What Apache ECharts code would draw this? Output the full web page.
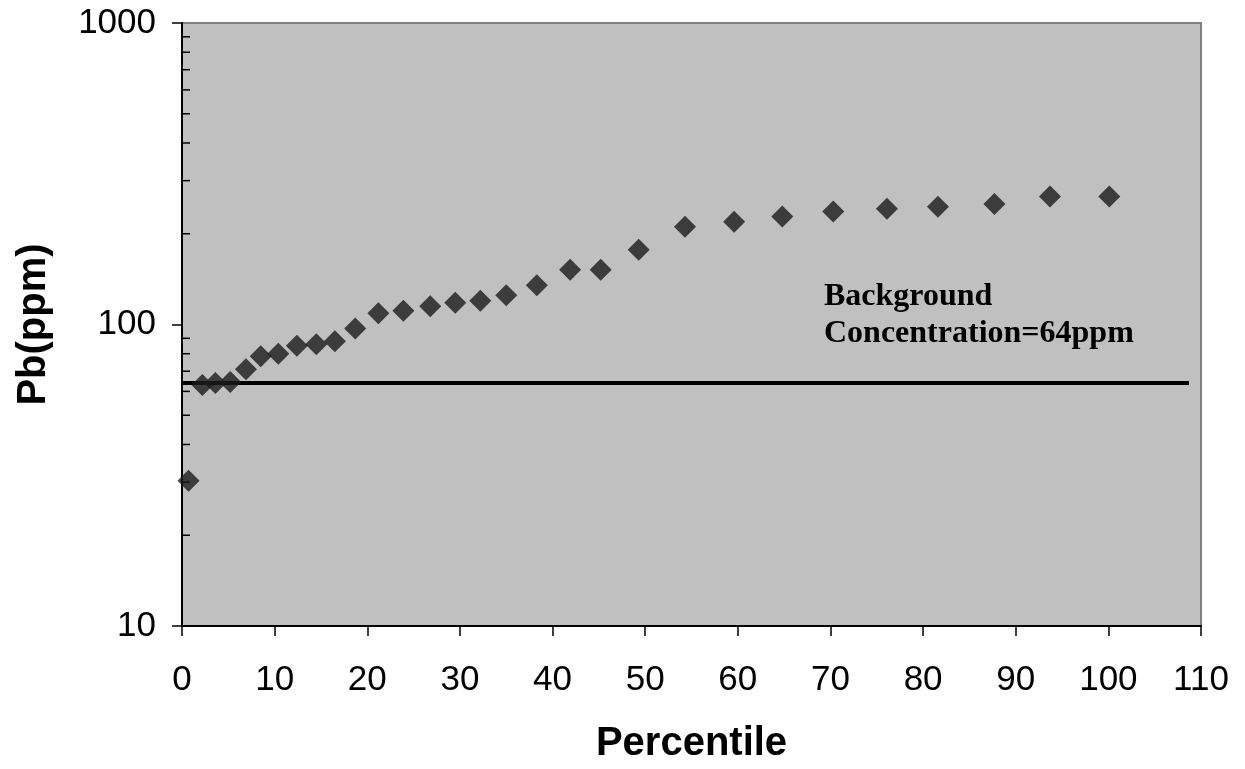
<!DOCTYPE html>
<html>
<head>
<meta charset="utf-8">
<script src="https://cdn.jsdelivr.net/npm/echarts@6/dist/echarts.min.js"></script>
<style>
html,body{margin:0;padding:0;background:#fff;}
#chart{width:1245px;height:769px;}
</style>
</head>
<body>
<div id="chart"></div>
<script>
// Data
const percentile = [0.7, 2.2, 3.6, 5.2, 6.9, 8.5, 10.4, 12.4, 14.5, 16.5, 18.7, 21.2, 23.9, 26.8, 29.5, 32.2, 35.0, 38.3, 41.9, 45.2, 49.3, 54.3, 59.6, 64.8, 70.3, 76.1, 81.6, 87.7, 93.7, 100.1];
const pbPpm = [30.3, 63, 64, 64.4, 71, 78.5, 80, 85, 86, 88, 97, 109, 111, 115, 118, 120, 125, 135, 152, 152, 177, 211, 219, 228, 237, 242, 246, 251, 266, 266];
const backgroundX = [0, 108.7];
const backgroundValue = 64;
const xTicks = {min: 0, max: 110, interval: 10};
const yTicks = {min: 10, max: 1000};
const yMinorTicks = [20, 30, 40, 50, 60, 70, 80, 90, 200, 300, 400, 500, 600, 700, 800, 900];
const annotationLines = ['Background', 'Concentration=64ppm'];

const chart = echarts.init(document.getElementById('chart'));
const font = '"Liberation Sans", Arial, sans-serif';

chart.setOption({
  animation: false,
  backgroundColor: '#ffffff',
  grid: {
    left: 182, right: 44, top: 23, bottom: 141,
    show: true, backgroundColor: '#c0c0c0', borderColor: '#808080', borderWidth: 2
  },
  xAxis: {
    type: 'value', min: xTicks.min, max: xTicks.max, interval: xTicks.interval,
    name: 'Percentile', nameLocation: 'middle', nameGap: 98,
    nameTextStyle: {fontFamily: font, fontWeight: 'bold', fontSize: 40, color: '#000'},
    axisLine: {show: true, onZero: false, lineStyle: {color: '#000', width: 2}},
    axisTick: {show: true, inside: false, length: 10, lineStyle: {color: '#000', width: 1.5}},
    axisLabel: {fontFamily: font, fontSize: 35, color: '#000', margin: 37},
    splitLine: {show: false}
  },
  yAxis: {
    type: 'log', logBase: 10, min: yTicks.min, max: yTicks.max,
    name: 'Pb(ppm)', nameLocation: 'middle', nameGap: 128, nameRotate: 90,
    nameTextStyle: {fontFamily: font, fontWeight: 'bold', fontSize: 40, color: '#000'},
    axisLine: {show: true, lineStyle: {color: '#000', width: 2}},
    axisTick: {show: true, inside: false, length: 10, lineStyle: {color: '#000', width: 1.5}},
    axisLabel: {fontFamily: font, fontSize: 35, color: '#000', margin: 26,
      formatter: function (v) { return String(Math.round(v)); }},
    minorTick: {show: false},
    splitLine: {show: false}
  },
  series: [
    {
      type: 'custom',
      silent: true,
      z: 1,
      data: yMinorTicks.map(v => [xTicks.min, v]),
      renderItem: function (params, api) {
        const p = api.coord([api.value(0), api.value(1)]);
        return {
          type: 'line',
          shape: {x1: p[0], y1: p[1], x2: p[0] + 8, y2: p[1]},
          style: {stroke: '#000', lineWidth: 1.5}
        };
      }
    },
    {
      type: 'line',
      data: backgroundX.map(x => [x, backgroundValue]),
      showSymbol: false,
      symbol: 'none',
      lineStyle: {color: '#000', width: 4},
      z: 2
    },
    {
      type: 'scatter',
      data: percentile.map((x, i) => [x, pbPpm[i]]),
      symbol: 'diamond',
      symbolSize: 22,
      itemStyle: {color: '#1a1a1a'},
      z: 3
    }
  ],
  graphic: [
    {
      type: 'text',
      left: 824, top: 278,
      style: {
        text: annotationLines.join('\n'),
        font: 'bold 32px "Liberation Serif", "Times New Roman", serif',
        fill: '#000',
        lineHeight: 37
      }
    }
  ]
});
</script>
</body>
</html>
